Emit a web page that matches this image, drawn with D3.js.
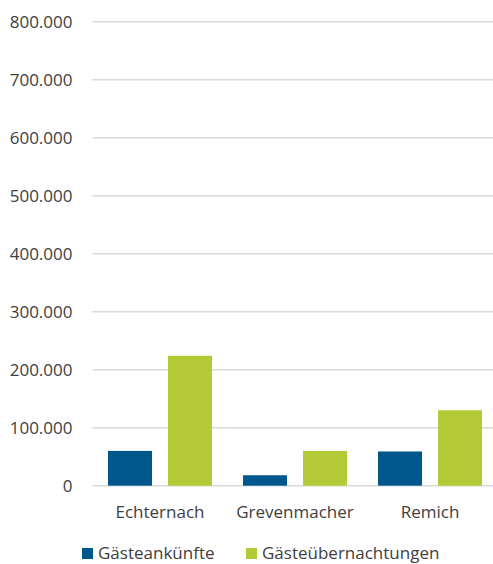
<!DOCTYPE html>
<html>
<head>
<meta charset="utf-8">
<script src="https://cdn.jsdelivr.net/npm/d3@7"></script>
<style>
  body { margin: 0; background: #fff; }
  text { font-family: "Open Sans", sans-serif; fill: #404040; }
</style>
</head>
<body>
<div id="main"></div>
<script>
// data
let categories = ["Echternach", "Grevenmacher", "Remich"]
let seriesNames = ["Gästeankünfte", "Gästeübernachtungen"]
let arrivals = [60000, 18000, 59000]
let overnights = [224000, 60000, 130000]
let yTicks = [0, 100000, 200000, 300000, 400000, 500000, 600000, 700000, 800000]
let colors = ["#00578b", "#b3c935"]

let W = 493, H = 564
let margin = {top: 21.7, right: -4.5, bottom: 78.3, left: 92.5},
    width = W - margin.left - margin.right,
    height = H - margin.top - margin.bottom

let svg = d3.select("#main").append("svg")
    .attr("width", W)
    .attr("height", H)

let g = svg.append("g")
    .attr("transform", "translate(" + margin.left + "," + margin.top + ")")

let x = d3.scaleBand()
    .domain(categories)
    .range([0, width])

let y = d3.scaleLinear()
    .domain([0, 800000])
    .range([height, 0])

let fmt = d => d3.format(",")(d).replace(/,/g, ".")

// gridlines
g.selectAll(".grid")
    .data(yTicks)
    .enter()
    .append("line")
    .attr("x1", 0)
    .attr("x2", width)
    .attr("y1", d => y(d))
    .attr("y2", d => y(d))
    .attr("stroke", "#d9d9d9")
    .attr("stroke-width", 1.5)

// y labels
g.selectAll(".ylab")
    .data(yTicks)
    .enter()
    .append("text")
    .attr("x", -20)
    .attr("y", d => y(d))
    .attr("dy", "0.35em")
    .attr("text-anchor", "end")
    .attr("font-size", "17px")
    .text(d => fmt(d))

// bars
let barW = 44, innerGap = 16
let series = [arrivals, overnights]
let groups = g.selectAll(".cat")
    .data(categories)
    .enter()
    .append("g")
    .attr("transform", d => "translate(" + (x(d) + x.bandwidth() / 2) + ",0)")

groups.each(function (c, ci) {
    d3.select(this).selectAll("rect")
        .data(series.map(s => s[ci]))
        .enter()
        .append("rect")
        .attr("x", (d, i) => i === 0 ? -innerGap / 2 - barW : innerGap / 2)
        .attr("y", d => y(d))
        .attr("width", barW)
        .attr("height", d => height - y(d))
        .attr("fill", (d, i) => colors[i])
})

// category labels
g.selectAll(".xlab")
    .data(categories)
    .enter()
    .append("text")
    .attr("x", d => x(d) + x.bandwidth() / 2)
    .attr("y", height + 32)
    .attr("text-anchor", "middle")
    .attr("font-size", "17px")
    .text(d => d)

// legend
let legendX = [82, 246]
let legend = svg.selectAll(".legend")
    .data(seriesNames)
    .enter()
    .append("g")
    .attr("transform", (d, i) => "translate(" + legendX[i] + ",548)")

legend.append("rect")
    .attr("width", 11)
    .attr("height", 11)
    .attr("fill", (d, i) => colors[i])

legend.append("text")
    .attr("x", 16)
    .attr("y", 11)
    .attr("font-size", "17px")
    .text(d => d)
</script>
</body>
</html>
